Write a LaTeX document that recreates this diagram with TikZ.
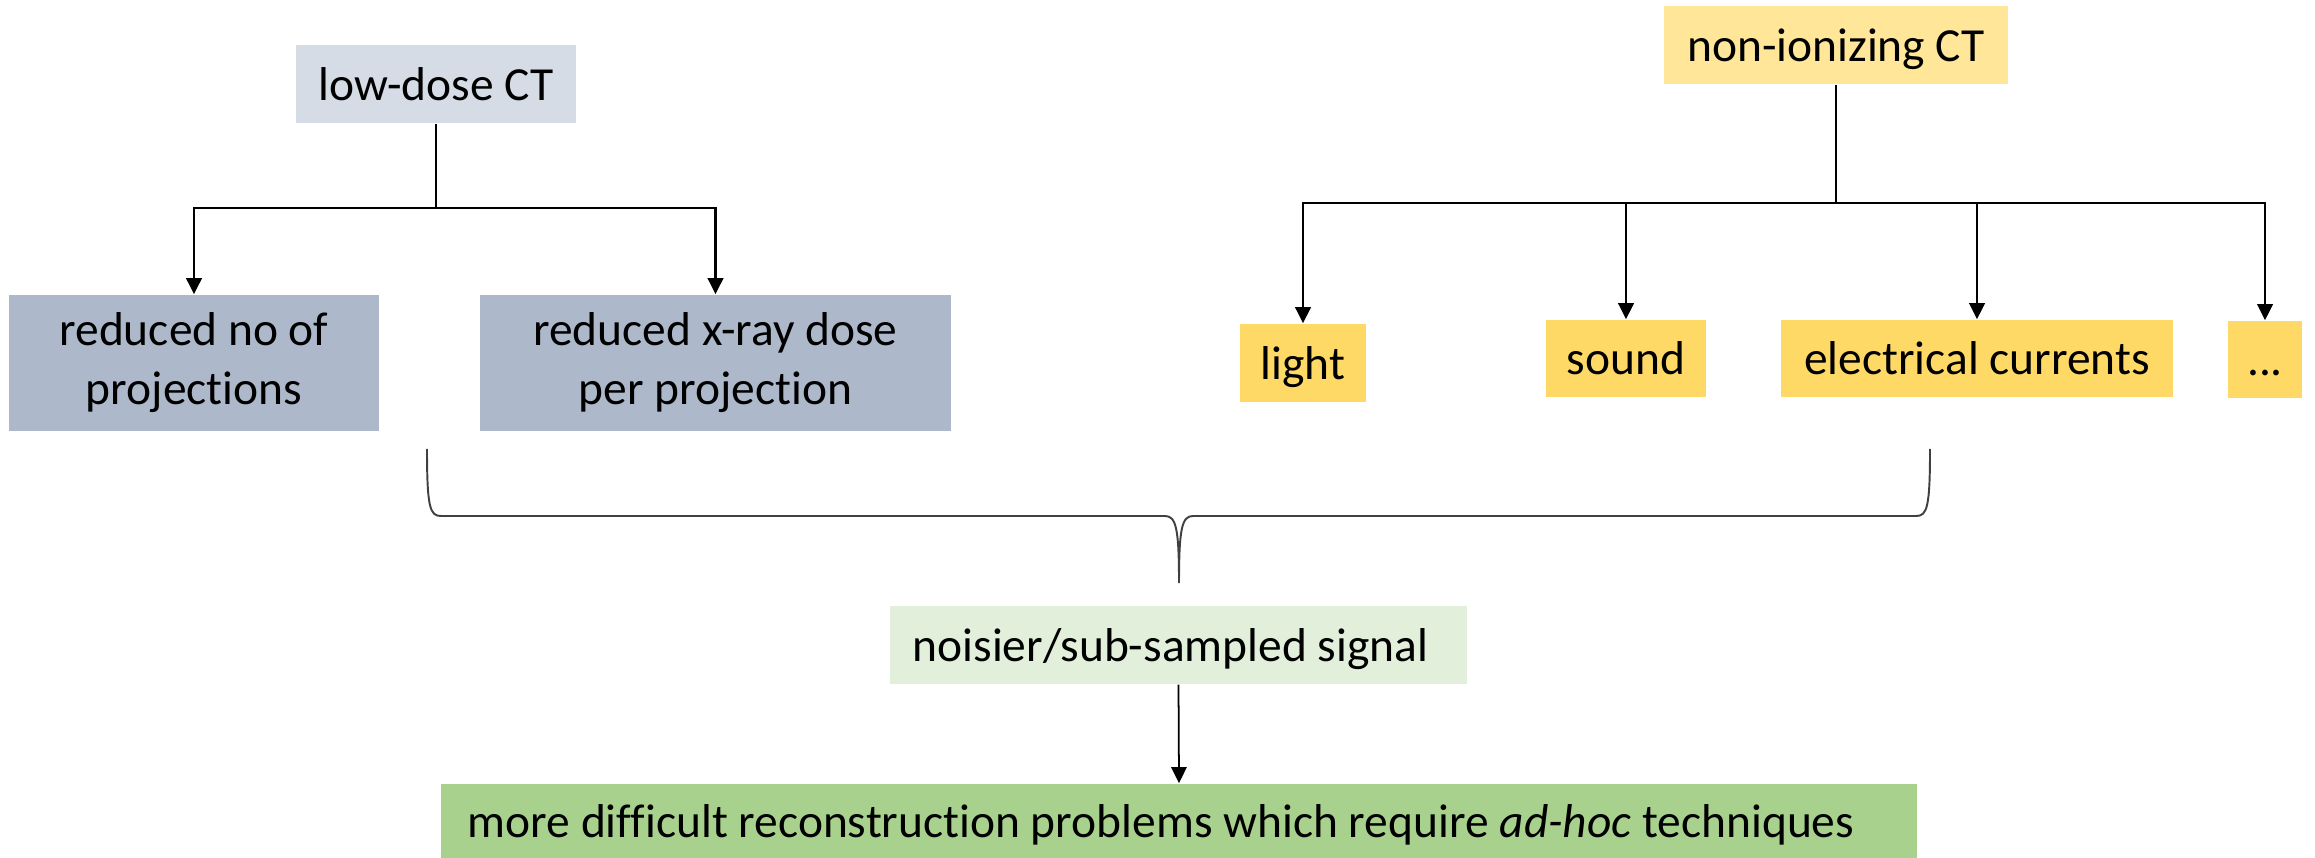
\documentclass[tikz,border=0pt]{standalone}
\usepackage{fontspec}
\setmainfont{Carlito}[Ligatures=NoCommon]
\usetikzlibrary{arrows.meta}
\definecolor{cLow}{HTML}{D6DCE5}
\definecolor{cRed}{HTML}{ADB9CA}
\definecolor{cNon}{HTML}{FFE699}
\definecolor{cMod}{HTML}{FFD966}
\definecolor{cNoise}{HTML}{E2EFDA}
\definecolor{cHard}{HTML}{A9D18E}
\tikzset{
  basebox/.style={inner sep=0pt, align=center, font=\fontsize{13.5pt}{16.8pt}\selectfont},
  box/.style={basebox, text height=0.40cm, text depth=0.08cm},
  twobox/.style={basebox},
  conn/.style={line width=0.75pt, black},
  arr/.style={conn, -{Triangle[width=4.4pt,length=4.6pt]}},
  thinarr/.style={line width=0.5pt, black, -{Triangle[width=4.4pt,length=4.6pt]}},
  bracel/.style={line width=0.55pt, black!75},
}
\begin{document}
\begin{tikzpicture}[x=0.01cm, y=-0.01cm]
\useasboundingbox (0,0) rectangle (2315,858);
% nodes
\node[box, fill=cLow, minimum width=2.80cm, minimum height=0.78cm] (lowdose) at (436,84) {low-dose CT};
\node[twobox, fill=cRed, minimum width=3.70cm, minimum height=1.36cm] (rednum) at (194,363) {reduced no of\\projections};
\node[twobox, fill=cRed, minimum width=4.71cm, minimum height=1.36cm] (reddose) at (715.5,363) {reduced x-ray dose\\per projection};
\node[box, fill=cNon, minimum width=3.44cm, minimum height=0.78cm] (nonion) at (1836,45) {non-ionizing CT};
\node[box, fill=cMod, minimum width=1.26cm, minimum height=0.78cm] (light) at (1303,363) {light};
\node[box, fill=cMod, minimum width=1.60cm, minimum height=0.77cm] (sound) at (1626,358.5) {sound};
\node[box, fill=cMod, minimum width=3.92cm, minimum height=0.77cm] (elec) at (1977,358.5) {electrical currents};
\node[box, fill=cMod, minimum width=0.74cm, minimum height=0.77cm] (dots) at (2265,359.5) {...};
\node[box, fill=cNoise, minimum width=5.77cm, minimum height=0.78cm] (noisy) at (1178.5,645) {noisier/sub-sampled signal\hspace*{0.16cm}};
\node[box, fill=cHard, minimum width=14.76cm, minimum height=0.74cm] (hard) at (1179,821) {more difficult reconstruction problems which require \textit{ad-hoc} techniques\hspace*{0.36cm}};
% low-dose tree
\coordinate (j1) at (436,208);
\draw[conn] (lowdose.south) -- (j1);
\draw[arr] (j1) -| (rednum.north);
\draw[arr] (j1) -| (reddose.north);
% non-ionizing tree
\coordinate (j2) at (1836,203);
\draw[conn] (nonion.south) -- (j2);
\draw[arr] (j2) -| (light.north);
\draw[arr] (j2) -| (sound.north);
\draw[arr] (j2) -| (elec.north);
\draw[arr] (j2) -| (dots.north);
% brace
\coordinate (bl) at (427,449);
\coordinate (br) at (1930,449);
\coordinate (bt) at (1179,583);
\draw[bracel] (bl) .. controls (427,508) and (430,516) .. (441,516) -- (1165,516)
  .. controls (1176,516) and (1179,528) .. (bt)
  .. controls (1179,528) and (1182,516) .. (1193,516) -- (1916,516)
  .. controls (1927,516) and (1930,508) .. (br);
% final arrow
\draw[thinarr] (noisy.south) -- (hard.north);
\end{tikzpicture}
\end{document}
